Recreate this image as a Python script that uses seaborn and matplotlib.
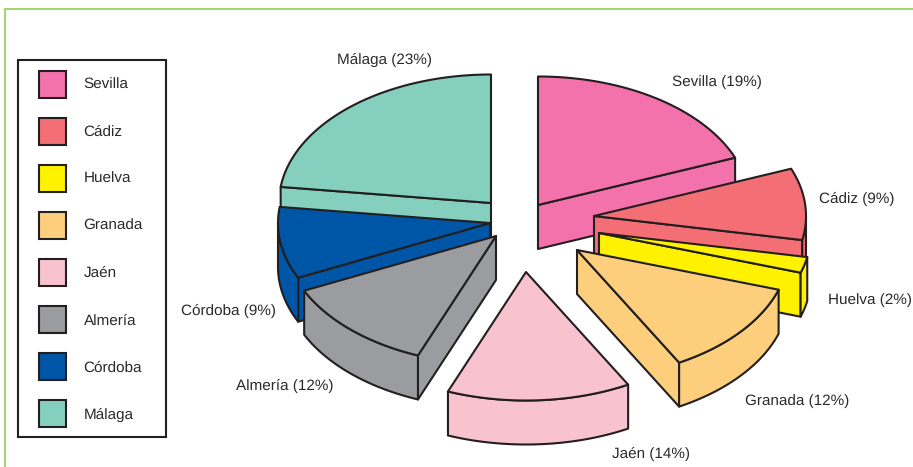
import numpy as np
import seaborn as sns
import matplotlib.pyplot as plt
from matplotlib.patches import Polygon, Rectangle

provincias = ['Sevilla', 'Cádiz', 'Huelva', 'Granada', 'Jaén', 'Almería', 'Córdoba', 'Málaga']
porcentajes = [19, 9, 2, 12, 14, 12, 9, 23]
colores = ['#F472AB', '#F46E75', '#FFF200', '#FDCF7C', '#F8C3CE', '#9B9C9F', '#0056A6', '#84CFBE']

# separacion de cada porcion respecto al centro de la tarta
centro = (515, 225)
sep_x = [23, 79, 84, 62, 11, -19, -25, -24]
sep_y = [-20, -9, 8, 25, 47, 11, -2, -22]

# posicion de las etiquetas
etiq_x = [716.5, 857, 870, 797, 651, 284.5, 228, 384.5]
etiq_y = [82, 199, 300, 401, 454, 386, 311, 60]

orden_dibujo = [7, 0, 1, 2, 3, 6, 5, 4]

RX, RY, ALTO = 212, 128.5, 44

sns.set_theme(style='white')
plt.rcParams['font.family'] = ['Liberation Sans', 'DejaVu Sans']
plt.rcParams['text.hinting'] = 'none'

fig = plt.figure(figsize=(9.13, 4.67), dpi=100)
ax = fig.add_axes([0, 0, 1, 1])
ax.set_xlim(0, 913)
ax.set_ylim(467, 0)
ax.axis('off')

# marco verde
ax.plot([5, 5, 913], [467, 8.5, 8.5], color='#A5D56F', lw=1.5, solid_joinstyle='miter')

fin = np.cumsum(porcentajes) / 100 * 2 * np.pi
ini = np.concatenate([[0], fin[:-1]])


def arco(cx, cy, a, b):
    t = np.linspace(a, b, max(int((b - a) * 60), 2))
    return np.column_stack([cx + RX * np.sin(t), cy - RY * np.cos(t)])


def cara(puntos, color, z):
    ax.add_patch(Polygon(puntos, closed=True, facecolor=color, edgecolor='#231F20',
                         lw=1.5, joinstyle='round', zorder=z))


for z, i in enumerate(orden_dibujo):
    cx = centro[0] + sep_x[i]
    cy = centro[1] + sep_y[i]
    a, b = ini[i], fin[i]
    borde = arco(cx, cy, a, b)
    abajo = np.array([0, ALTO])
    apice = np.array([cx, cy])
    zz = 10 + z * 2

    # caras laterales rectas, solo las que miran al observador
    if borde[0, 0] < cx - 0.5:
        cara([apice, borde[0], borde[0] + abajo, apice + abajo], colores[i], zz)
    if borde[-1, 0] > cx + 0.5:
        cara([borde[-1], apice, apice + abajo, borde[-1] + abajo], colores[i], zz)

    # cara curva exterior
    v0, v1 = max(a, np.pi / 2), min(b, 3 * np.pi / 2)
    if v1 > v0:
        curva = arco(cx, cy, v0, v1)
        cara(np.vstack([curva, curva[::-1] + abajo]), colores[i], zz)

    # tapa
    cara(np.vstack([apice, borde]), colores[i], zz + 1)

    ax.text(etiq_x[i], etiq_y[i], f'{provincias[i]} ({porcentajes[i]}%)', fontsize=11,
            color='#2B2A29', ha='center', va='center', zorder=50)

# leyenda
ax.add_patch(Rectangle((18, 60), 148, 377, facecolor='white', edgecolor='#231F20', lw=1.5, zorder=1))
for i, nombre in enumerate(provincias):
    y = 84 + i * 47.1
    ax.add_patch(Rectangle((39, y - 13.5), 27, 27, facecolor=colores[i], edgecolor='#231F20', lw=1.5, zorder=2))
    ax.text(83.5, y + 1, nombre, fontsize=11, color='#2B2A29', ha='left', va='center', zorder=2)

fig.savefig('out.png', dpi=100, facecolor='white')
